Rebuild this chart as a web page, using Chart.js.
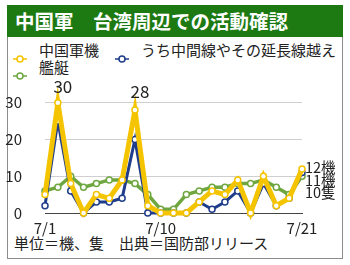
<!DOCTYPE html>
<html>
<head>
<meta charset="utf-8">
<script src="https://cdn.jsdelivr.net/npm/chart.js@4.4.1/dist/chart.umd.min.js"></script>
<style>
body { margin: 0; width: 350px; height: 265px; overflow: hidden; background: #fff; font-family: "Noto Sans CJK JP", sans-serif; color: #222; }
#frame { position: absolute; left: 7px; top: 5px; width: 336px; height: 254px; border: 1px solid #8c8c8c; box-sizing: border-box; }
#header { position: absolute; left: 7px; top: 5px; width: 336px; height: 32px; background: #1d7a13; color: #fff; font-weight: bold; font-size: 19.5px; line-height: 32px; padding-left: 8px; box-sizing: border-box; white-space: pre; }
.leg { position: absolute; font-size: 15px; line-height: 18px; white-space: nowrap; }
.mk { position: absolute; }
#foot { position: absolute; left: 14px; top: 233px; font-size: 15px; line-height: 20px; white-space: pre; }
canvas { position: absolute; left: 0; top: 0; }
</style>
</head>
<body>
<div id="frame"></div>
<div id="header">中国軍　台湾周辺での活動確認</div>
<div id="legend"></div>
<div id="foot">単位＝機、隻　出典＝国防部リリース</div>
<canvas id="chart" width="350" height="265"></canvas>
<script>
const days = ['7/1','7/2','7/3','7/4','7/5','7/6','7/7','7/8','7/9','7/10','7/11',
              '7/12','7/13','7/14','7/15','7/16','7/17','7/18','7/19','7/20','7/21'];
const shownDays = ['7/1', '7/10', '7/21'];
const aircraft = [5, 30, 8, 0, 5, 4, 9, 28, 2, 0, 0, 0, 3, 6, 5, 9, 0, 10, 2, 4, 12];
const medianLine = [2, 25, 6, 0, 3, 3, 4, 20, 0, 0, 0, 0, 3, 1, 3, 6, 0, 8, 2, 4, 11];
const ships = [6, 7, 10, 7, 8, 9, 9, 8, 5, 1, 1, 5, 6, 7, 7, 8, 8, 9, 7, 5, 10];
const seriesNames = ['中国軍機', 'うち中間線やその延長線越え', '艦艇'];
const endUnits = ['機', '機', '隻'];
const peakDays = ['7/2', '7/8'];

const yellow = '#f5c400';
const navy = '#1f3d8a';
const green = '#6ea63f';

// legend (html)
const legendPlaces = [[13, 41], [115, 41], [13, 58]];
const legendColors = [yellow, navy, green];
const legendBox = document.getElementById('legend');
seriesNames.forEach(function(name, i) {
    const p = legendPlaces[i];
    const mk = document.createElement('div');
    mk.className = 'mk';
    mk.style.left = p[0] + 'px';
    mk.style.top = (p[1] + 4) + 'px';
    mk.innerHTML = '<svg width="14" height="10"><line x1="0" y1="5" x2="14" y2="5" stroke="' + legendColors[i] +
        '" stroke-width="1.5"/><circle cx="7" cy="5" r="3" fill="#fff" stroke="' + legendColors[i] + '" stroke-width="1.5"/></svg>';
    legendBox.appendChild(mk);
    const tx = document.createElement('div');
    tx.className = 'leg';
    tx.style.left = (p[0] + 26) + 'px';
    tx.style.top = p[1] + 'px';
    tx.textContent = name;
    legendBox.appendChild(tx);
});

function lineSet(label, data, color, width) {
    return {
        label: label,
        data: data,
        borderColor: color,
        borderWidth: width,
        pointRadius: 3,
        pointBorderWidth: 1.5,
        pointBorderColor: color,
        pointBackgroundColor: '#fff',
        tension: 0,
        clip: false
    };
}

const labelPlugin = {
    id: 'labelPlugin',
    afterDatasetsDraw: function(chart) {
        const ctx = chart.ctx;
        const x = chart.scales.x;
        const y = chart.scales.y;
        ctx.save();
        ctx.fillStyle = '#222';
        ctx.font = '17px "Noto Sans CJK JP", sans-serif';
        ctx.textAlign = 'center';
        ctx.textBaseline = 'bottom';
        // peak labels sit at about the same height above the plot
        const peakTop = y.getPixelForValue(30) - 3;
        peakDays.forEach(function(d) {
            const i = days.indexOf(d);
            const py = Math.min(y.getPixelForValue(aircraft[i]) - 8, peakTop);
            ctx.fillText(String(aircraft[i]), x.getPixelForValue(i) + 5, py);
        });
        const last = days.length - 1;
        const lastValues = [aircraft[last], medianLine[last], ships[last]];
        ctx.font = '14.5px "Noto Sans CJK JP", sans-serif';
        ctx.textAlign = 'left';
        ctx.textBaseline = 'middle';
        const top = y.getPixelForValue(lastValues[0]) - 1.5;
        lastValues.forEach(function(v, k) {
            ctx.fillText(v + endUnits[k], x.getPixelForValue(last) + 3, top + k * 12.7);
        });
        ctx.restore();
    }
};

new Chart(document.getElementById('chart'), {
    type: 'line',
    data: {
        labels: days,
        datasets: [
            lineSet(seriesNames[0], aircraft, yellow, 5),
            lineSet(seriesNames[1], medianLine, navy, 3),
            lineSet(seriesNames[2], ships, green, 3.5)
        ]
    },
    options: {
        responsive: false,
        animation: false,
        layout: { padding: { left: 0, top: 102.7, right: 48, bottom: 0 } },
        plugins: { legend: { display: false }, tooltip: { enabled: false } },
        scales: {
            x: {
                offset: false,
                grid: { display: false, drawTicks: false },
                border: { display: true, color: '#444', width: 1 },
                ticks: {
                    autoSkip: false,
                    maxRotation: 0,
                    padding: 6,
                    color: '#222',
                    font: { size: 15, family: '"Noto Sans CJK JP", sans-serif' },
                    callback: function(v, i) { return shownDays.includes(days[i]) ? days[i] : ''; }
                },
                afterFit: function(s) { s.height = 52; }
            },
            y: {
                min: 0,
                max: 30,
                ticks: {
                    stepSize: 10,
                    padding: 23,
                    color: '#222',
                    font: { size: 15, family: '"Noto Sans CJK JP", sans-serif' }
                },
                grid: {
                    drawTicks: false,
                    color: function(c) { return c.tick && c.tick.value === 0 ? '#444' : '#cfcfcf'; }
                },
                border: { display: false },
                afterFit: function(s) { s.width = 45; }
            }
        }
    },
    plugins: [labelPlugin]
});
</script>
</body>
</html>
